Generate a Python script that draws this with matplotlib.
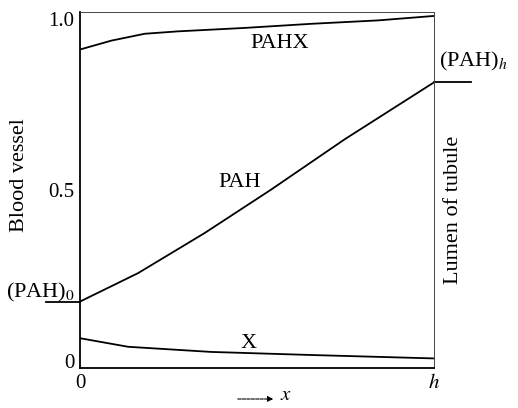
import matplotlib
matplotlib.use("Agg")
import matplotlib.pyplot as plt

plt.rcParams['font.family'] = ['Liberation Serif', 'DejaVu Serif']
plt.rcParams['mathtext.fontset'] = 'stix'

# x is distance along the tubule, 0 .. h (h = 1)
pahx_x = [0, 0.089, 0.183, 0.277, 0.465, 0.653, 0.842, 1.0]
pahx_y = [0.910, 0.936, 0.956, 0.963, 0.973, 0.985, 0.995, 1.008]

pah_x = [0, 0.164, 0.352, 0.540, 0.748, 1.0]
pah_y = [0.174, 0.257, 0.374, 0.501, 0.648, 0.814]

x_x = [0, 0.136, 0.370, 0.653, 1.0]
x_y = [0.067, 0.042, 0.027, 0.018, 0.008]

yticks = [0, 0.5, 1.0]
ytick_labels = ['0', '0.5', '1.0']
xticks = [0, 1]
xtick_labels = ['0', '$h$']

fig = plt.figure(figsize=(5.18, 4.08), dpi=100)
ax = fig.add_axes([0.1544, 0.098, 0.6834, 0.873])

ax.plot(pahx_x, pahx_y, color='black', lw=1.3)
ax.plot(pah_x, pah_y, color='black', lw=1.3)
ax.plot(x_x, x_y, color='black', lw=1.3)

# short boundary levels outside the box
ax.plot([-0.096, 0], [pah_y[0], pah_y[0]], color='black', lw=1.3, clip_on=False)
ax.plot([1.0, 1.105], [pah_y[-1], pah_y[-1]], color='black', lw=1.3, clip_on=False)

ax.set_xlim(0, 1)
ax.set_ylim(-0.02, 1.02)
ax.set_yticks(yticks, ytick_labels)
ax.set_xticks(xticks, xtick_labels)
ax.tick_params(length=0, labelsize=15, pad=4)

for s in ['left', 'bottom']:
    ax.spines[s].set_linewidth(1.3)
for s in ['top', 'right']:
    ax.spines[s].set_linewidth(0.7)
    ax.spines[s].set_color('#444444')

fs = 16
ax.text(0.565, 0.927, 'PAHX', fontsize=fs, ha='center', va='center')
ax.text(0.452, 0.522, 'PAH', fontsize=fs, ha='center', va='center')
ax.text(0.477, 0.053, 'X', fontsize=fs, ha='center', va='center')
ax.text(-0.112, 0.2, '(PAH)$_0$', fontsize=fs, ha='center', va='center', clip_on=False)
ax.text(1.113, 0.874, '(PAH)$_h$', fontsize=fs, ha='center', va='center', clip_on=False)

fig.text(20 / 518, 1 - 175 / 408, 'Blood vessel', fontsize=fs, rotation=90,
         ha='center', va='center')
fig.text(453 / 518, 1 - 210 / 408, 'Lumen of tubule', fontsize=fs, rotation=90,
         ha='center', va='center')

fig.text(286 / 518, 1 - 396 / 408, '$x$', fontsize=15, ha='center', va='center')
fig.add_artist(matplotlib.patches.FancyArrowPatch(
    (235 / 518, 1 - 399 / 408), (276 / 518, 1 - 399 / 408),
    transform=fig.transFigure, arrowstyle='-|>', mutation_scale=8,
    color='black', lw=0.8, linestyle=(0, (3, 1))))

fig.savefig('out.png', dpi=100)
